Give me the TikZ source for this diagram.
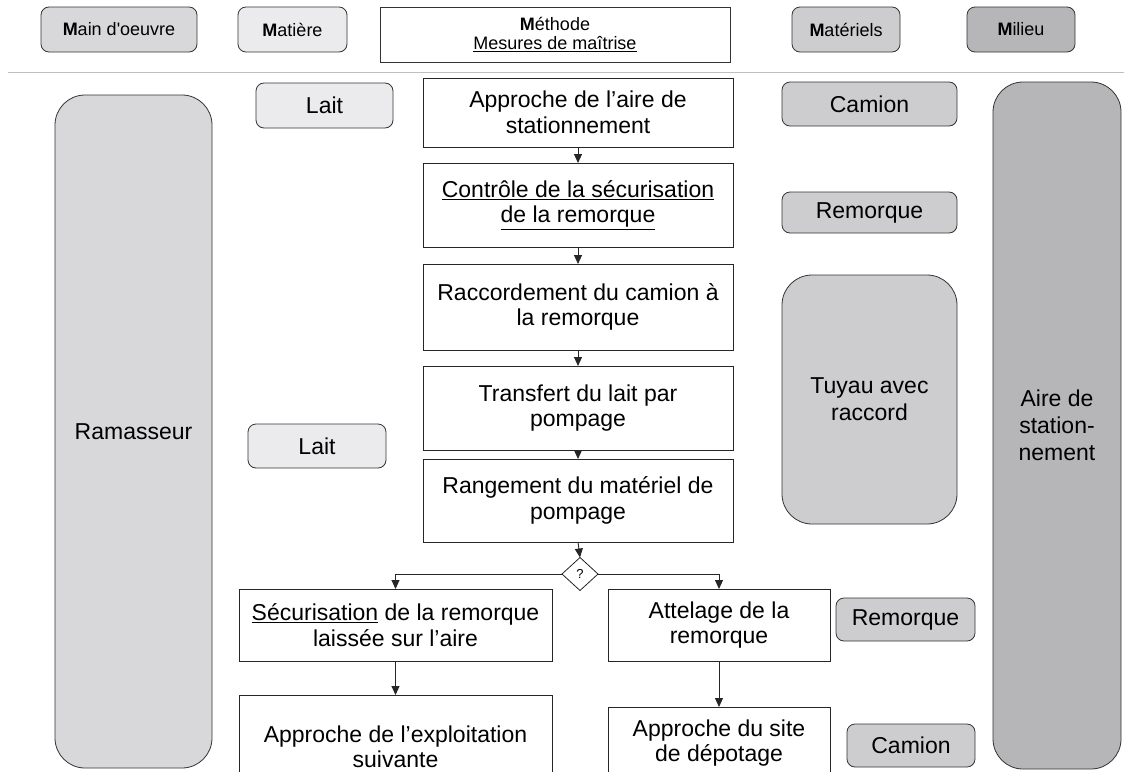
\documentclass[tikz,border=0pt]{standalone}
\usepackage{fontspec}
\setmainfont{Liberation Sans}
\usetikzlibrary{arrows.meta,shapes.geometric}
\definecolor{gMain}{RGB}{216,216,218}
\definecolor{gMat}{RGB}{235,235,237}
\definecolor{gMtl}{RGB}{205,205,207}
\definecolor{gMil}{RGB}{182,182,184}

\begin{document}
\begin{tikzpicture}[x=1pt,y=1pt,yscale=-1,
	headbox/.style={draw=black!80,line width=0.8pt,rounded corners=8pt,inner sep=0pt,outer sep=0pt,align=center,font=\fontsize{18}{19}\selectfont},
	tagbox/.style={draw=black!80,line width=0.8pt,rounded corners=8pt,inner sep=0pt,outer sep=0pt,align=center,font=\fontsize{23}{27}\selectfont},
	bigtag/.style={tagbox,rounded corners=30pt},
	flowbox/.style={draw=black!85,line width=0.8pt,fill=white,inner sep=0pt,outer sep=0pt,align=center,font=\fontsize{23}{25.5}\selectfont},
	flowarrow/.style={draw=black!85,line width=0.9pt,-{Triangle[length=9pt,width=8pt]}}]
	\useasboundingbox (0,0) rectangle (1124,771);
	\clip (0,0) rectangle (1124,771);
	% en-tete des 5 M
	\node[headbox,fill=gMain,minimum width=156,minimum height=45] (mo) at (119,29.5) {\textbf{M}ain d\textquotesingle oeuvre};
	\node[headbox,fill=gMat,minimum width=109,minimum height=45] (mat) at (292.5,29.5) {\textbf{M}atière};
	\node[headbox,rounded corners=0pt,fill=white,minimum width=350,minimum height=55] (meth) at (555,34.5) {\textbf{M}éthode\\\underline{Mesures de maîtrise}};
	\node[headbox,fill=gMtl,minimum width=108,minimum height=45] (mtl) at (846,29.5) {\textbf{M}atériels};
	\node[headbox,fill=gMil,minimum width=108,minimum height=45] (mil) at (1021,29.5) {\textbf{M}ilieu};
	\draw[black!25,line width=1pt] (8,72) -- (1124,72);
	% colonnes laterales
	\node[bigtag,fill=gMain,minimum width=157,minimum height=673] (ram) at (133.5,431.5) {Ramasseur};
	\node[tagbox,fill=gMat,minimum width=137,minimum height=45] (lait1) at (324.5,105.5) {Lait};
	\node[tagbox,fill=gMat,minimum width=138,minimum height=44] (lait2) at (317,446) {Lait};
	\node[tagbox,fill=gMtl,minimum width=175,minimum height=44] (cam1) at (869.5,104) {Camion};
	\node[tagbox,fill=gMtl,minimum width=175,minimum height=41] (rem1) at (869.5,212.5) {Remorque};
	\node[bigtag,fill=gMtl,minimum width=175,minimum height=249] (tuy) at (869.5,399.5) {Tuyau avec\\raccord};
	\node[tagbox,fill=gMtl,minimum width=139,minimum height=43] (rem2) at (905.5,619.5) {Remorque};
	\node[tagbox,fill=gMtl,minimum width=128,minimum height=43] (cam2) at (911,745.5) {Camion};
	\node[bigtag,fill=gMil,minimum width=128,minimum height=687] (aire) at (1057,425.5) {Aire de\\station-\\nement};
	% logigramme
	\node[flowbox,minimum width=310,minimum height=69] (a1) at (578,112.5) {Approche de l’aire de\\stationnement};
	\node[flowbox,minimum width=310,minimum height=84] (a2) at (578,205) {\underline{Contrôle de la sécurisation}\\\underline{de la remorque}};
	\node[flowbox,minimum width=310,minimum height=86] (a3) at (578,307) {Raccordement du camion à\\la remorque};
	\node[flowbox,minimum width=310,minimum height=84] (a4) at (578,408) {Transfert du lait par\\pompage};
	\node[flowbox,minimum width=310,minimum height=83] (a5) at (578,500.5) {Rangement du matériel de\\pompage};
	\node[draw=black!85,line width=0.8pt,fill=white,shape=diamond,inner sep=0pt,outer sep=0pt,minimum width=36,minimum height=33,font=\fontsize{13}{15}\selectfont] (q) at (580,574) {?};
	\node[flowbox,minimum width=313,minimum height=72] (sec) at (395.5,625) {\underline{Sécurisation} de la remorque\\laissée sur l’aire};
	\node[flowbox,minimum width=222,minimum height=72] (att) at (719,625) {Attelage de la\\remorque};
	\node[flowbox,minimum width=313,minimum height=104] (expl) at (395.5,747) {Approche de l’exploitation\\suivante};
	\node[flowbox,minimum width=222,minimum height=72] (site) at (719,743) {Approche du site\\de dépotage};
	\draw[flowarrow] (a1.south) -- (a2.north);
	\draw[flowarrow] (a2.south) -- (a3.north);
	\draw[flowarrow] (a3.south) -- (a4.north);
	\draw[flowarrow] (a4.south) -- (a5.north);
	\draw[flowarrow] (a5.south) -- (q.north);
	\draw[flowarrow] (q.west) -| (sec.north);
	\draw[flowarrow] (q.east) -| (att.north);
	\draw[flowarrow] (sec.south) -- (expl.north);
	\draw[flowarrow] (att.south) -- (site.north);
\end{tikzpicture}
\end{document}
